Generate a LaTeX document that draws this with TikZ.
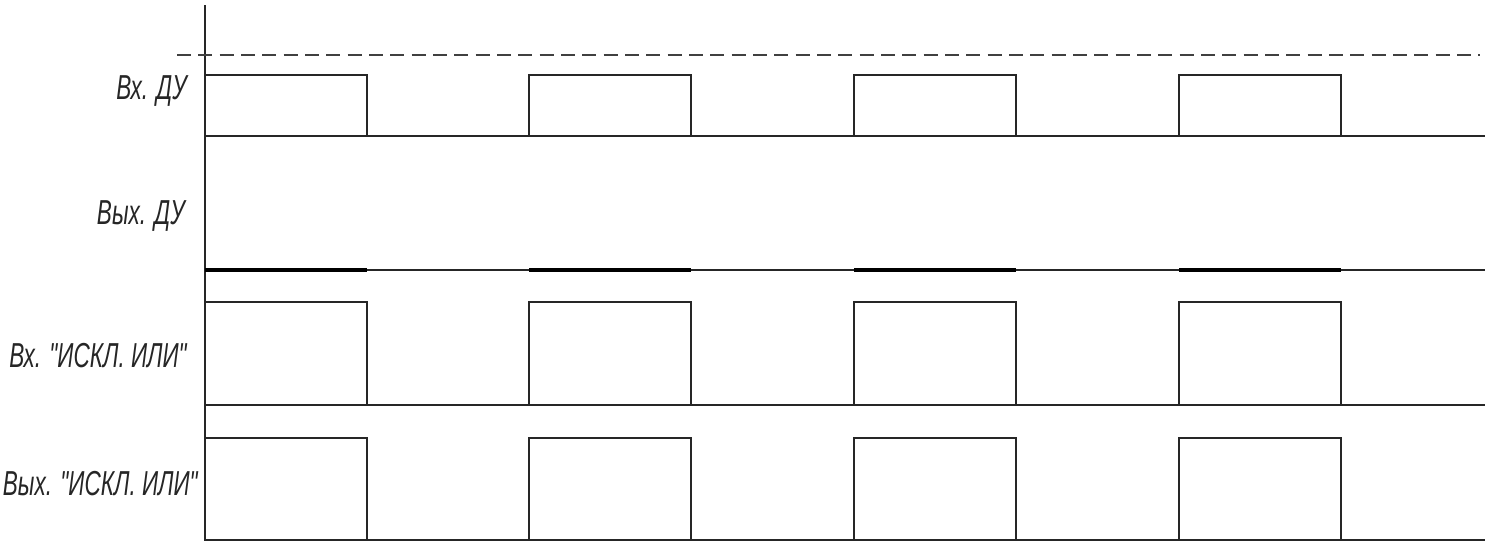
\documentclass[tikz,border=0pt]{standalone}
\usepackage{fontspec}
\newfontfamily\labelfont[FakeStretch=0.65]{Liberation Sans}
\begin{document}
\begin{tikzpicture}[x=0.75pt,y=-0.75pt,
  wave/.style={draw=black!85,line width=1.5pt},
  thickwave/.style={draw=black,line width=2.8pt},
  axis/.style={draw=black!85,line width=1.5pt},
  guide/.style={draw=black!75,line width=1.5pt,dash pattern=on 10.5pt off 5.5pt},
  sig/.style={anchor=east,inner sep=0pt,font=\labelfont\itshape\fontsize{26}{30}\selectfont,text=black!85}]
\useasboundingbox (0,0) rectangle (1487,543);
% axis and dashed level
\draw[axis] (205,5) -- (205,541);
\draw[guide] (177,55) -- (1480,55);
% row 1: Vx DU
\foreach \a/\b in {205/367,529/691,854/1016,1179/1341}
  \draw[wave] (\a,136) -- (\a,75) -- (\b,75) -- (\b,136);
\draw[wave] (205,136) -- (1485,136);
% row 2: Vyx DU
\draw[wave] (205,270) -- (1485,270);
\foreach \a/\b in {205/367,529/691,854/1016,1179/1341}
  \draw[thickwave] (\a,270) -- (\b,270);
% row 3
\foreach \a/\b in {205/367,529/691,854/1016,1179/1341}
  \draw[wave] (\a,405) -- (\a,302) -- (\b,302) -- (\b,405);
\draw[wave] (205,405) -- (1485,405);
% row 4
\foreach \a/\b in {205/367,529/691,854/1016,1179/1341}
  \draw[wave] (\a,540) -- (\a,438) -- (\b,438) -- (\b,540);
\draw[wave] (205,540) -- (1485,540);
% labels
\node[sig] (l1) at (187,91) {Вх. ДУ};
\node[sig] (l2) at (185,216) {Вых. ДУ};
\node[sig] (l3) at (187,356) {Вх. "ИСКЛ. ИЛИ"};
\node[sig] (l4) at (198,484) {Вых. "ИСКЛ. ИЛИ"};
\end{tikzpicture}
\end{document}
